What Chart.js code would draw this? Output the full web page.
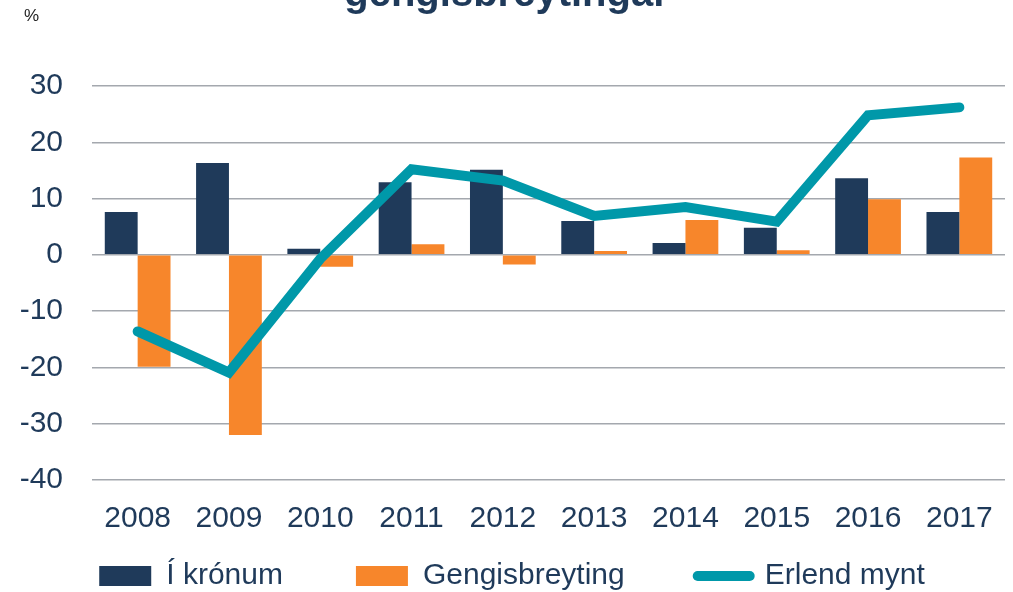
<!DOCTYPE html>
<html>
<head>
<meta charset="utf-8">
<script src="https://cdn.jsdelivr.net/npm/chart.js@4.4.1/dist/chart.umd.min.js"></script>
<style>
    html, body { margin: 0; padding: 0; background: #fff; overflow: hidden; }
    #wrap { position: relative; width: 1013px; height: 592px; overflow: hidden; }
    #title {
        position: absolute; left: 0; width: 1013px; top: -29px;
        text-align: center; font: bold 40px "Liberation Sans", Arial, sans-serif;
        line-height: 42px; color: #1f3a5a; white-space: nowrap;
    }
    #unit {
        position: absolute; left: 24px; top: 6px;
        font: 17px "Liberation Sans", Arial, sans-serif; color: #222;
    }
    canvas { position: absolute; left: 0; top: 0; }
</style>
</head>
<body>
<div id="wrap">
    <canvas id="chart" width="1013" height="592"></canvas>
    <div id="title">gengisbreytingar</div>
    <div id="unit">%</div>
</div>
<script>
const years = ["2008", "2009", "2010", "2011", "2012", "2013", "2014", "2015", "2016", "2017"];
const iKronum = [7.6, 16.3, 1.1, 12.9, 15.1, 6.0, 2.1, 4.8, 13.6, 7.6];
const gengisbreyting = [-19.9, -32.0, -2.1, 1.9, -1.7, 0.7, 6.2, 0.8, 9.9, 17.3];
const erlendMynt = [-13.6, -20.9, -0.7, 15.2, 13.2, 6.9, 8.5, 5.9, 24.8, 26.2];

const NAVY = "#1f3a5a";
const ORANGE = "#f7862b";
const TEAL = "#0098a9";
const FONT = "'Liberation Sans', Arial, sans-serif";

const ctx = document.getElementById("chart").getContext("2d");

new Chart(ctx, {
    type: "bar",
    data: {
        labels: years,
        datasets: [
            {
                label: "Í krónum",
                data: iKronum,
                backgroundColor: NAVY,
                order: 1
            },
            {
                label: "Gengisbreyting",
                data: gengisbreyting,
                backgroundColor: ORANGE,
                order: 1
            },
            {
                type: "line",
                label: "Erlend mynt",
                data: erlendMynt,
                borderColor: TEAL,
                backgroundColor: TEAL,
                borderWidth: 10,
                borderCapStyle: "round",
                borderJoinStyle: "miter",
                pointRadius: 0,
                tension: 0,
                order: 0
            }
        ]
    },
    options: {
        responsive: false,
        animation: false,
        categoryPercentage: 0.72,
        barPercentage: 1,
        layout: { padding: { left: 19, right: 8, top: 86, bottom: -9 } },
        plugins: {
            title: { display: false },
            tooltip: { enabled: false },
            legend: {
                position: "bottom",
                // empty title with negative padding pulls the row up,
                // so the wide horizontal gap doesn't push it off the bottom
                title: {
                    display: true,
                    text: "",
                    font: { family: FONT, size: 30 },
                    padding: { top: 0, bottom: -80 }
                },
                labels: {
                    font: { family: FONT, size: 30 },
                    color: NAVY,
                    usePointStyle: true,
                    pointStyleWidth: 52,
                    boxHeight: 20,
                    padding: 73,
                    sort: (a, b) => a.datasetIndex - b.datasetIndex,
                    generateLabels(chart) {
                        const items = Chart.defaults.plugins.legend.labels.generateLabels(chart);
                        return items.map(item => {
                            if (item.datasetIndex === 2) {
                                item.pointStyle = "line";
                                item.lineWidth = 10;
                                item.strokeStyle = TEAL;
                                item.lineCap = "round";
                            } else {
                                item.pointStyle = "rect";
                                item.lineWidth = 0;
                            }
                            return item;
                        });
                    }
                }
            }
        },
        scales: {
            x: {
                grid: { display: false },
                border: { display: false },
                ticks: {
                    font: { family: FONT, size: 30 },
                    color: NAVY,
                    padding: 13,
                    maxRotation: 0
                },
                afterFit(scale) { scale.height = 52; }
            },
            y: {
                min: -40,
                max: 30,
                ticks: {
                    stepSize: 10,
                    font: { family: FONT, size: 30 },
                    color: NAVY,
                    padding: 29
                },
                border: { display: false },
                grid: {
                    color: "#a4a8ae",
                    lineWidth: 1.5,
                    drawTicks: false
                },
                afterFit(scale) { scale.width = 73; }
            }
        }
    }
});
</script>
</body>
</html>
